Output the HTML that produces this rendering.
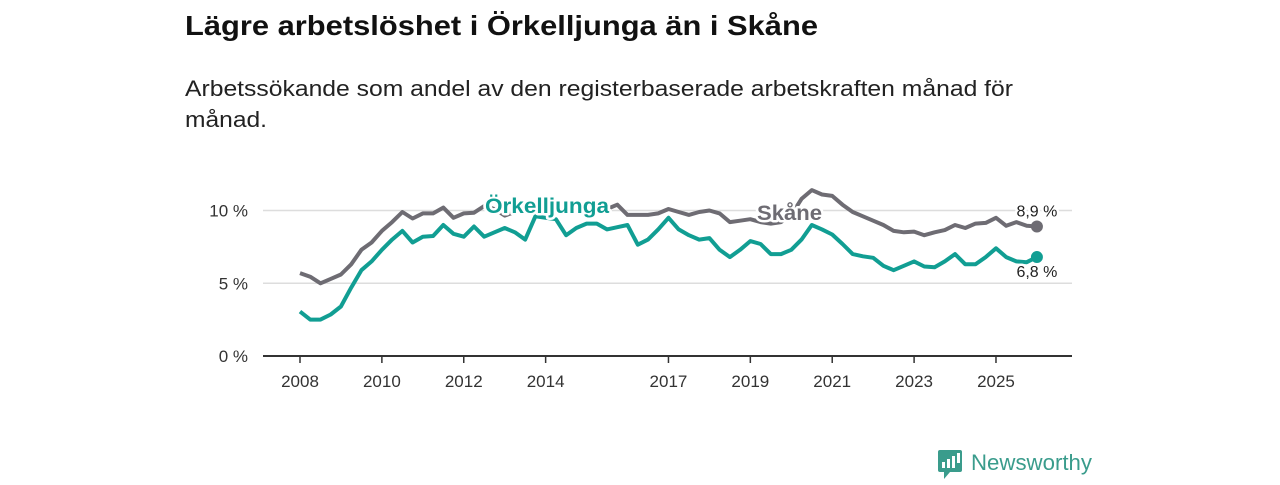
<!DOCTYPE html>
<html><head><meta charset="utf-8"><style>
body{margin:0;width:1280px;height:480px;background:#fff;font-family:"Liberation Sans","DejaVu Sans",sans-serif;overflow:hidden}
</style></head><body>
<svg width="1280" height="480">
<text x="185" y="35" font-size="28" font-weight="bold" fill="#111" textLength="633" lengthAdjust="spacingAndGlyphs">Lägre arbetslöshet i Örkelljunga än i Skåne</text>
<text x="185" y="96" font-size="22" fill="#222" textLength="828" lengthAdjust="spacingAndGlyphs">Arbetssökande som andel av den registerbaserade arbetskraften månad för</text>
<text x="185" y="127" font-size="22" fill="#222" textLength="82" lengthAdjust="spacingAndGlyphs">månad.</text>
<g id="grid"></g><g id="xaxis"></g><g id="lines"></g><g id="labels"></g>
<g>
<rect x="938" y="450" width="24" height="22" rx="2" fill="#3a9c8c"/>
<polygon points="944,472 950,472 944,479" fill="#3a9c8c"/>
<rect x="942" y="462" width="3" height="6" fill="#fff"/><rect x="947" y="459" width="3" height="9" fill="#fff"/><rect x="952" y="456" width="3" height="12" fill="#fff"/><rect x="957" y="453" width="3" height="10" fill="#fff"/>
<text x="971" y="470" font-size="22" fill="#3a9c8c" textLength="121" lengthAdjust="spacingAndGlyphs">Newsworthy</text>
</g>
</svg>
<script>
const yTicks=[0,5,10];
const yTickLabels=["0 %","5 %","10 %"];
const xTicks=[2008,2010,2012,2014,2017,2019,2021,2023,2025];
const startYear=2008;
const skane=[5.7,5.45,5.0,5.3,5.6,6.3,7.3,7.8,8.6,9.2,9.9,9.45,9.8,9.8,10.2,9.5,9.8,9.85,10.3,10.1,9.65,9.9,10.0,10.1,10.2,10.1,10.0,10.0,10.1,10.0,10.1,10.4,9.7,9.7,9.7,9.8,10.1,9.9,9.7,9.9,10.0,9.8,9.2,9.3,9.4,9.2,9.1,9.2,9.7,10.8,11.4,11.1,11.0,10.4,9.9,9.6,9.3,9.0,8.6,8.5,8.55,8.3,8.5,8.65,9.0,8.8,9.1,9.15,9.5,8.95,9.2,8.95,8.9];
const orkelljunga=[3.05,2.5,2.5,2.85,3.4,4.7,5.9,6.5,7.3,8.0,8.6,7.8,8.2,8.25,9.0,8.4,8.2,8.9,8.2,8.5,8.8,8.5,8.0,9.6,9.5,9.4,8.3,8.8,9.1,9.1,8.7,8.85,9.0,7.65,8.0,8.7,9.5,8.7,8.3,8.0,8.1,7.3,6.8,7.3,7.9,7.7,7.0,7.0,7.3,8.0,9.0,8.7,8.35,7.7,7.0,6.85,6.75,6.2,5.9,6.2,6.5,6.15,6.1,6.5,7.0,6.3,6.3,6.8,7.4,6.8,6.5,6.45,6.8];
const ns="http://www.w3.org/2000/svg";
const xs=t=>300+(t-startYear)*40.94;
const ys=v=>356-v*14.55;
function mk(tag,attrs,parent,text){const e=document.createElementNS(ns,tag);for(const k in attrs)e.setAttribute(k,attrs[k]);if(text!=null)e.textContent=text;document.getElementById(parent).appendChild(e);return e;}
yTicks.forEach((v,i)=>{
 if(v>0){const l=mk('line',{x1:263,x2:1072,y1:ys(v),y2:ys(v),stroke:'#ddd','stroke-width':1.5},'grid');
 
 }
 const t=mk('text',{x:248,y:ys(v)+6,'text-anchor':'end','font-size':17,fill:'#333'},'grid',yTickLabels[i]);
 
 
});
const ax=mk('line',{x1:263,x2:1072,y1:356,y2:356,stroke:'#333','stroke-width':2},'xaxis');


xTicks.forEach(y=>{
 const tk=mk('line',{x1:xs(y),x2:xs(y),y1:356,y2:363,stroke:'#333','stroke-width':1.5},'xaxis');
 
 
 const t=mk('text',{x:xs(y),y:387,'text-anchor':'middle','font-size':17,fill:'#333'},'xaxis',String(y));
 
 
});
function line(arr,color,name){
 const d=arr.map((v,i)=>(i?'L':'M')+xs(startYear+i*0.25).toFixed(1)+','+ys(v).toFixed(1)).join('');
 const p=mk('path',{d:d,fill:'none',stroke:color,'stroke-width':4,'stroke-linejoin':'round'},'lines');
 
 
 const last=arr[arr.length-1];
 const c=mk('circle',{cx:xs(startYear+(arr.length-1)*0.25),cy:ys(last),r:6,fill:color},'lines');
 
 
 return last;
}
const s=line(skane,'#6e6c73','skane-line');
const o=line(orkelljunga,'#119e93','orkelljunga-line');
function lab(x,y,txt,color,size,bold,name,anchor,len){
 const a={x:x,y:y,'font-size':size,'font-weight':bold?'bold':'normal',fill:color,stroke:'#fff','stroke-width':5,'paint-order':'stroke','stroke-linejoin':'round','text-anchor':anchor||'start'};
 if(len){a.textLength=len;a.lengthAdjust='spacingAndGlyphs';}
 const t=mk('text',a,'labels',txt);
 
 
}
lab(485,213,'Örkelljunga','#119e93',21,true,'orkelljunga-label','start',124);
lab(757,220,'Skåne','#6e6c73',21,true,'skane-label','start',65);
const lx=xs(startYear+(skane.length-1)*0.25);
lab(lx,ys(s)-10,String(s.toFixed(1)).replace('.',',')+' %','#222',16,false,'skane-value-label','middle');
lab(lx,ys(o)+20,String(o.toFixed(1)).replace('.',',')+' %','#222',16,false,'orkelljunga-value-label','middle');
</script>
</body></html>
